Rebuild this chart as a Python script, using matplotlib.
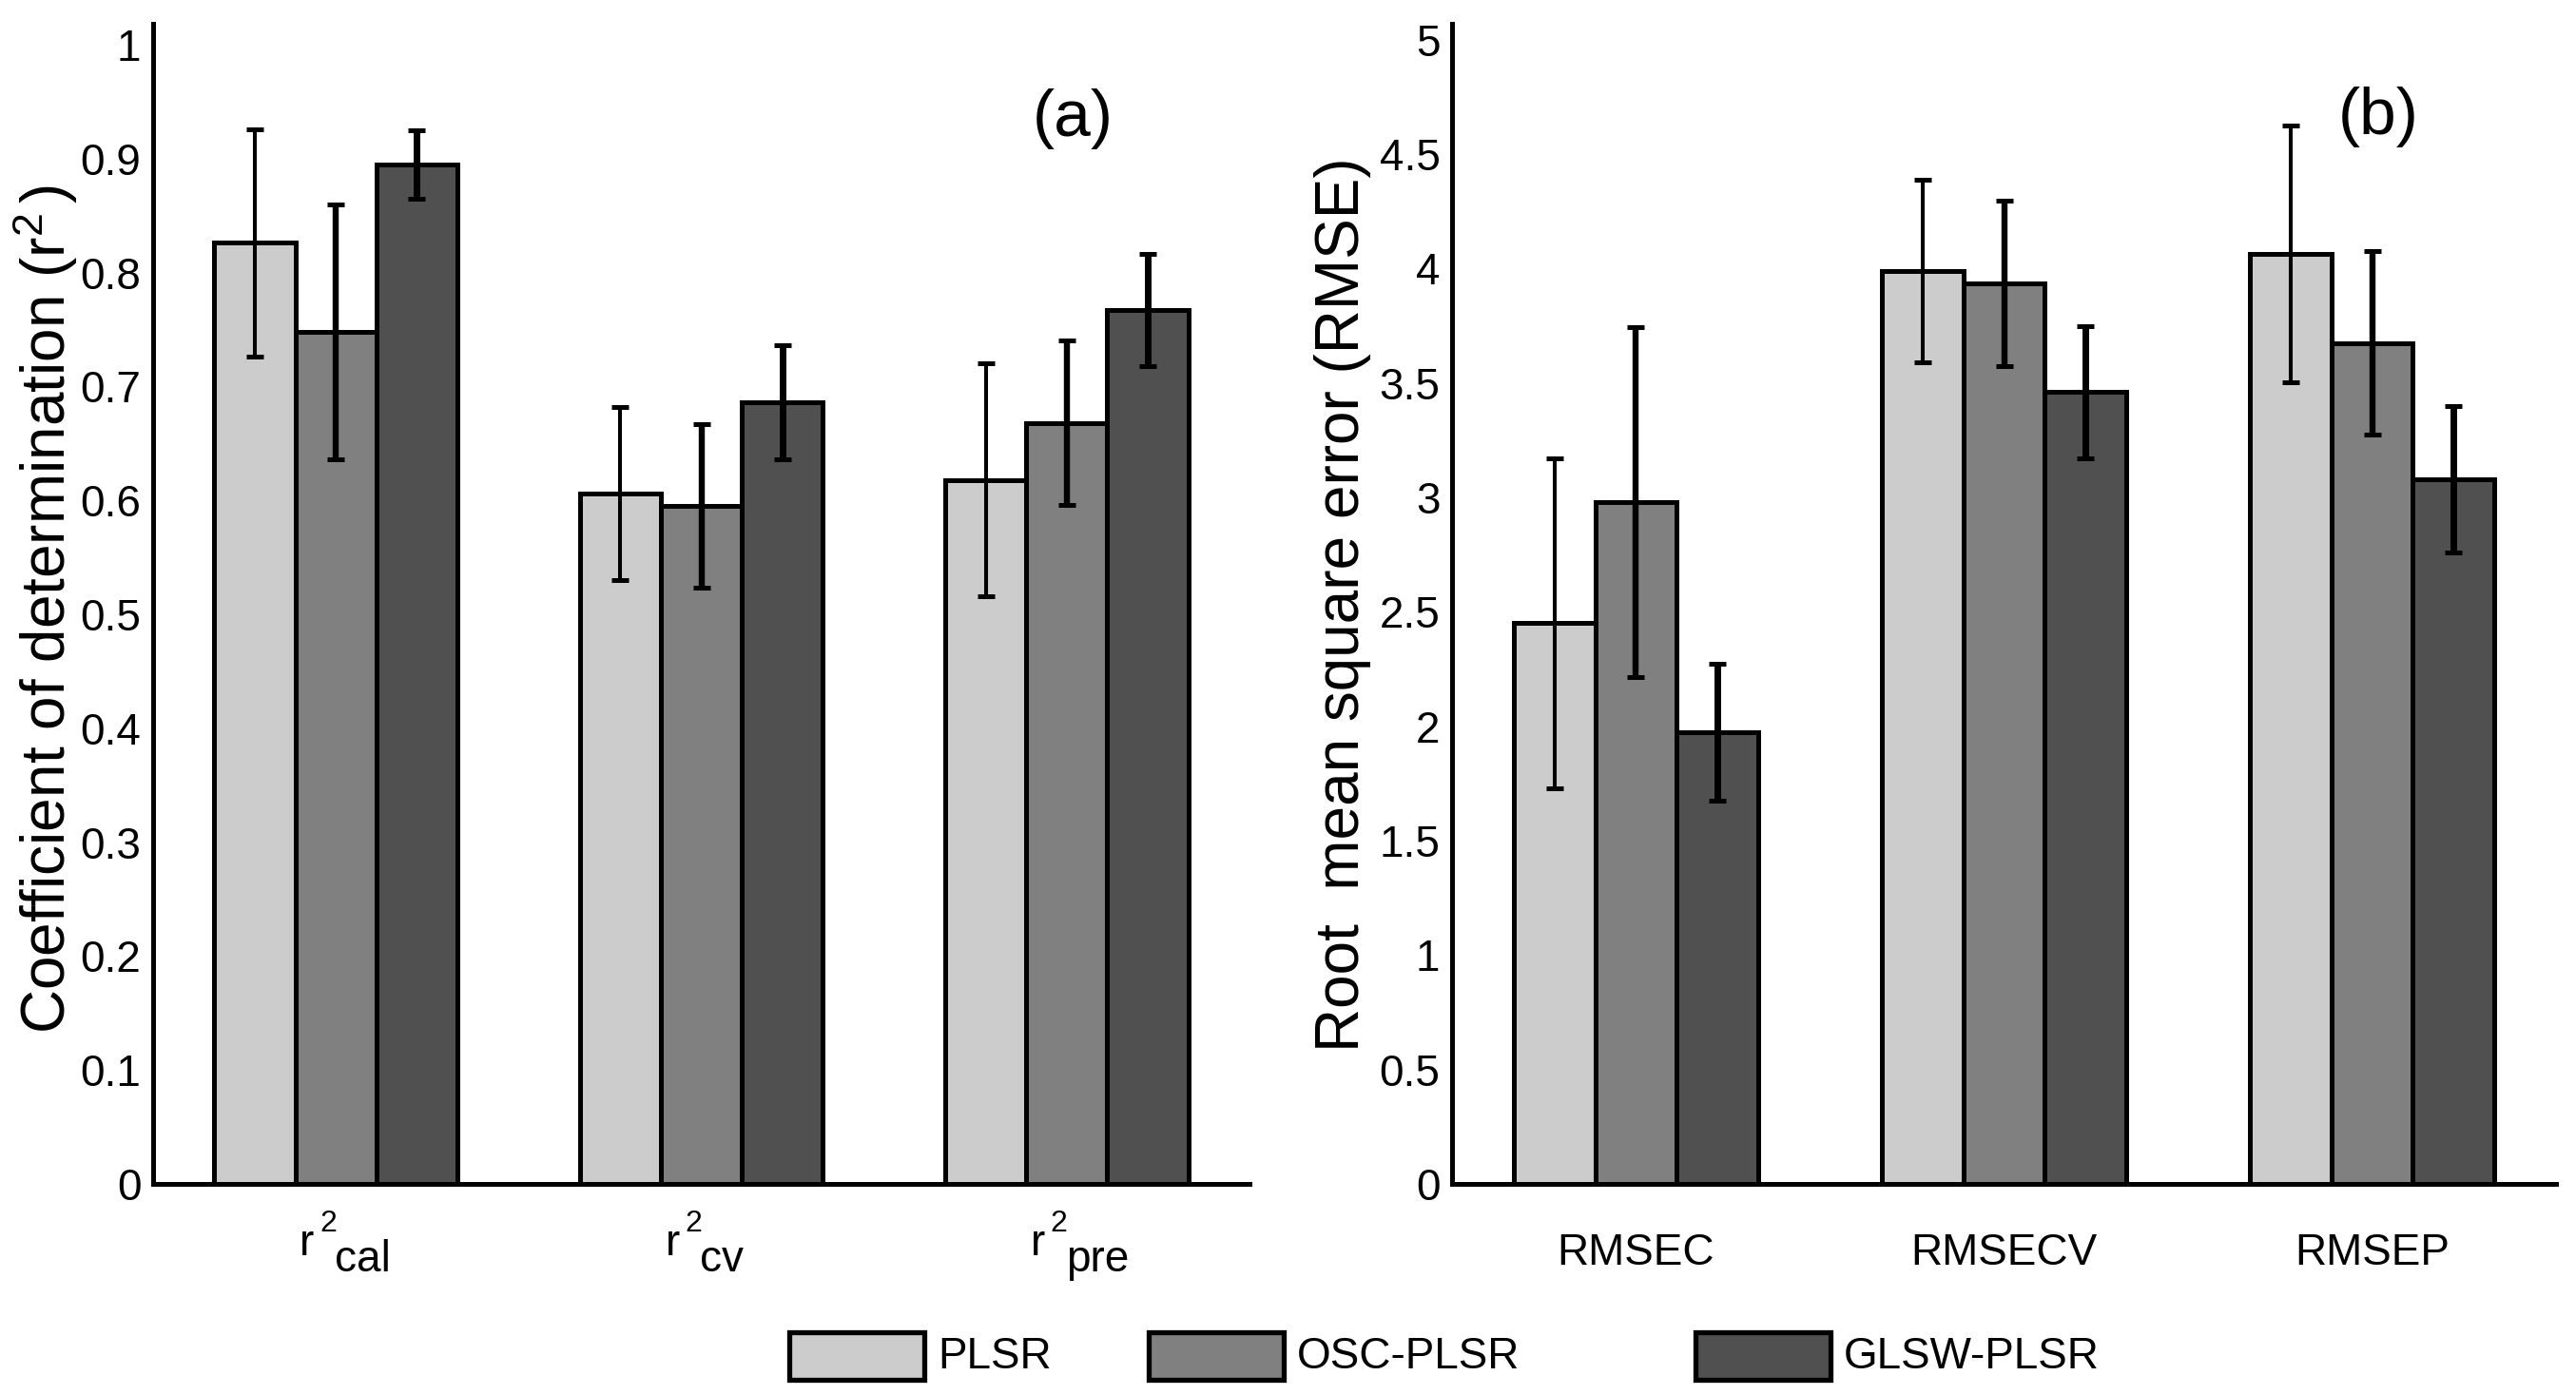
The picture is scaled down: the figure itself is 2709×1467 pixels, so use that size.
import matplotlib
matplotlib.use("Agg")
import matplotlib.pyplot as plt
from matplotlib.patches import Rectangle
import numpy as np

plt.rcParams['font.family'] = ['Liberation Sans', 'DejaVu Sans']
plt.rcParams['mathtext.fontset'] = 'custom'
plt.rcParams['mathtext.rm'] = 'Liberation Sans'
plt.rcParams['mathtext.it'] = 'Liberation Sans'

# ---------------- data ----------------
series = ['PLSR', 'OSC-PLSR', 'GLSW-PLSR']
colors = ['#cccccc', '#808080', '#505050']

r2_groups = ['cal', 'cv', 'pre']
r2_plsr = [0.826, 0.606, 0.618]
r2_osc = [0.748, 0.595, 0.668]
r2_glsw = [0.895, 0.686, 0.767]
r2_plsr_err = [0.100, 0.076, 0.102]
r2_osc_err = [0.112, 0.072, 0.072]
r2_glsw_err = [0.030, 0.050, 0.049]

rmse_groups = ['RMSEC', 'RMSECV', 'RMSEP']
rmse_plsr = [2.45, 3.99, 4.065]
rmse_osc = [2.98, 3.935, 3.675]
rmse_glsw = [1.975, 3.46, 3.08]
rmse_plsr_err = [0.72, 0.40, 0.56]
rmse_osc_err = [0.765, 0.36, 0.40]
rmse_glsw_err = [0.30, 0.29, 0.32]

yticks_a = [0, 0.1, 0.2, 0.3, 0.4, 0.5, 0.6, 0.7, 0.8, 0.9, 1]
yticks_b = [0, 0.5, 1, 1.5, 2, 2.5, 3, 3.5, 4, 4.5, 5]

# ---------------- figure ----------------
W, H = 2709, 1467
fig = plt.figure(figsize=(W / 100, H / 100), dpi=100)

def fx(px):
    return px / W

def fy(py):
    return 1 - py / H

ax_bottom = 1245
ax_top = 25
axA = fig.add_axes([fx(161), fy(ax_bottom), fx(1314) - fx(161), (ax_bottom - ax_top) / H])
axB = fig.add_axes([fx(1527), fy(ax_bottom), fx(2688) - fx(1527), (ax_bottom - ax_top) / H])

bar_w = 0.222
err_lw = [2.9, 4.6, 5.0]
TICK_FS = 33


def draw_panel(ax, vals, errs, ylim, yticks, ytlabels):
    x = np.arange(1, 4)
    for j in range(3):
        xs = x + (j - 1) * bar_w
        ax.bar(xs, vals[j], width=bar_w, color=colors[j], edgecolor='black',
               linewidth=3.6, zorder=2)
        ax.errorbar(xs, vals[j], yerr=errs[j], fmt='none', ecolor='black',
                    elinewidth=err_lw[j], capsize=6.5, capthick=3.6, zorder=3)
    ax.set_xlim(0.5, 3.5)
    ax.set_ylim(*ylim)
    ax.set_yticks(yticks)
    ax.set_yticklabels(ytlabels)
    for s in ['top', 'right']:
        ax.spines[s].set_visible(False)
    for s in ['left', 'bottom']:
        ax.spines[s].set_linewidth(3.6)
    ax.tick_params(axis='both', length=0, labelsize=TICK_FS)
    ax.tick_params(axis='y', pad=9)
    ax.set_xticks(x)


draw_panel(axA, [r2_plsr, r2_osc, r2_glsw], [r2_plsr_err, r2_osc_err, r2_glsw_err],
           (0, 1.0183), yticks_a, ['0', '0.1', '0.2', '0.3', '0.4', '0.5', '0.6', '0.7', '0.8', '0.9', '1'])
draw_panel(axB, [rmse_plsr, rmse_osc, rmse_glsw], [rmse_plsr_err, rmse_osc_err, rmse_glsw_err],
           (0, 5.07), yticks_b, ['0', '0.5', '1', '1.5', '2', '2.5', '3', '3.5', '4', '4.5', '5'])

# x tick labels panel (a): r^2 with subscripts
axA.set_xticklabels(['', '', ''])
for i, g in enumerate(r2_groups):
    xc = i + 1
    axA.annotate('r', xy=(xc, 0), xycoords='data', xytext=(-38, -75),
                 textcoords='offset pixels', ha='left', va='baseline', fontsize=TICK_FS)
    axA.annotate('2', xy=(xc, 0), xycoords='data', xytext=(-17, -50),
                 textcoords='offset pixels', ha='left', va='baseline', fontsize=23)
    axA.annotate(g, xy=(xc, 0), xycoords='data', xytext=(-1, -92),
                 textcoords='offset pixels', ha='left', va='baseline', fontsize=TICK_FS)

# x tick labels panel (b)
axB.set_xticklabels(rmse_groups)
axB.tick_params(axis='x', pad=37)

# y labels
fig.text(fx(48), fy(640), r'Coefficient of determination (r$^{2}\,$)', rotation=90,
         ha='center', va='center', fontsize=46)
fig.text(fx(1412), fy(636), 'Root  mean square error (RMSE)', rotation=90,
         ha='center', va='center', fontsize=46)

# panel letters
fig.text(fx(1128), fy(125), '(a)', ha='center', va='center', fontsize=50)
fig.text(fx(2501), fy(123), '(b)', ha='center', va='center', fontsize=50)

# legend (manual)
leg_x = [830, 1208, 1783]
for j in range(3):
    fig.patches.append(Rectangle((fx(leg_x[j]), fy(1451)), fx(142), 50 / H,
                                 transform=fig.transFigure, facecolor=colors[j],
                                 edgecolor='black', linewidth=3.8))
    fig.text(fx(leg_x[j] + 156), fy(1427), series[j], ha='left', va='center',
             fontsize=TICK_FS)

fig.savefig('out.png', dpi=100)
